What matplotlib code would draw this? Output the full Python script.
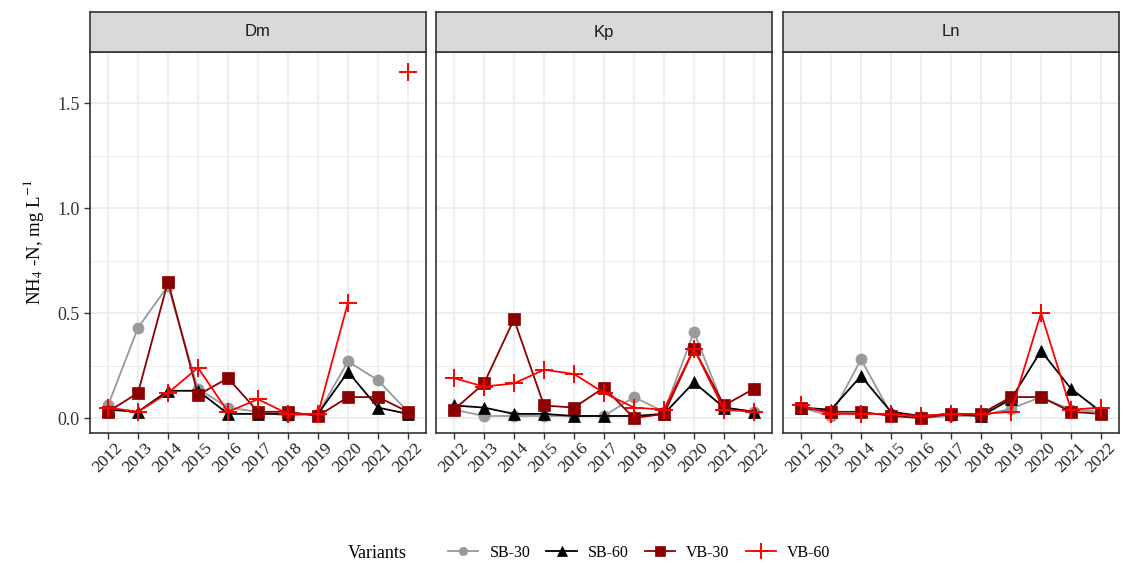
import numpy as np
import matplotlib
matplotlib.use("Agg")
import matplotlib.pyplot as plt
from matplotlib.lines import Line2D
from matplotlib.ticker import MultipleLocator

plt.rcParams['mathtext.fontset'] = 'stix'

years = list(range(2012, 2023))
panels = ["Dm", "Kp", "Ln"]
variants = ["SB-30", "SB-60", "VB-30", "VB-60"]

nan = np.nan
# Dm
dm_sb30 = [0.06, 0.43, 0.63, 0.14, 0.05, 0.03, 0.01, 0.02, 0.27, 0.18, 0.03]
dm_sb60 = [0.04, 0.03, 0.13, 0.13, 0.02, 0.02, 0.02, 0.02, 0.22, 0.05, 0.02]
dm_vb30 = [0.03, 0.12, 0.65, 0.11, 0.19, 0.03, 0.03, 0.01, 0.10, 0.10, 0.03]
dm_vb60 = [0.05, 0.03, 0.12, 0.24, 0.03, 0.09, 0.02, 0.02, 0.55, nan, 1.65]
# Kp
kp_sb30 = [0.04, 0.01, 0.01, 0.01, 0.01, 0.01, 0.10, 0.03, 0.41, 0.05, 0.03]
kp_sb60 = [0.06, 0.05, 0.02, 0.02, 0.01, 0.01, 0.01, 0.02, 0.17, 0.05, 0.03]
kp_vb30 = [0.04, 0.165, 0.47, 0.06, 0.05, 0.145, 0.00, 0.02, 0.33, 0.06, 0.14]
kp_vb60 = [0.19, 0.15, 0.165, 0.23, 0.21, 0.12, 0.05, 0.04, 0.33, 0.04, 0.03]
# Ln
ln_sb30 = [0.05, 0.01, 0.28, 0.02, 0.00, 0.01, 0.01, 0.045, 0.10, 0.04, 0.03]
ln_sb60 = [0.05, 0.04, 0.20, 0.03, 0.01, 0.02, 0.01, 0.09, 0.32, 0.14, 0.03]
ln_vb30 = [0.05, 0.03, 0.03, 0.01, 0.00, 0.02, 0.02, 0.10, 0.10, 0.03, 0.02]
ln_vb60 = [0.06, 0.02, 0.02, 0.02, 0.01, 0.02, 0.02, 0.03, 0.50, 0.04, 0.05]

data = {
    "Dm": [dm_sb30, dm_sb60, dm_vb30, dm_vb60],
    "Kp": [kp_sb30, kp_sb60, kp_vb30, kp_vb60],
    "Ln": [ln_sb30, ln_sb60, ln_vb30, ln_vb60],
}

colors = ["#999999", "#000000", "#8B0000", "#FF0000"]
markers = ["o", "^", "s", "+"]
msizes = [8, 9, 9, 13]

serif = "Liberation Serif"
W, H = 1123, 564
fig = plt.figure(figsize=(W / 100, H / 100), dpi=100)

lefts = [90, 436, 783]
pw = 336
top, bot = 52, 433
strip_h = 40

x = np.arange(len(years))
for k, name in enumerate(panels):
    ax = fig.add_axes([lefts[k] / W, 1 - bot / H, pw / W, (bot - top) / H])
    ax.set_xlim(-0.6, len(years) - 0.4)
    ax.set_ylim(-0.071, 1.743)
    ax.yaxis.set_major_locator(MultipleLocator(0.5))
    ax.yaxis.set_minor_locator(MultipleLocator(0.25))
    ax.set_xticks(x)
    ax.set_xticklabels([str(y) for y in years], rotation=45, ha="center",
                       fontfamily=serif, fontsize=12.5, color="#222222")
    ax.grid(which="major", color="#ebebeb", lw=1.2)
    ax.grid(which="minor", axis="y", color="#ebebeb", lw=0.7)
    ax.set_axisbelow(True)
    for sp in ax.spines.values():
        sp.set_color("#333333")
        sp.set_linewidth(1.2)
    ax.tick_params(axis="both", which="major", length=4, color="#333333", width=1)
    ax.tick_params(axis="y", which="minor", length=0)
    ax.tick_params(axis="x", pad=1)
    if k == 0:
        for lab in ax.get_yticklabels():
            lab.set_fontfamily(serif)
        ax.tick_params(axis="y", labelsize=13, labelcolor="#333333")
        ax.set_ylabel(r"NH$_4$ -N, mg L$^{-1}$", fontfamily=serif, fontsize=13.5, labelpad=8)
    else:
        ax.tick_params(axis="y", labelleft=False, length=0)

    for i in range(4):
        ax.plot(x, data[name][i], color=colors[i], marker=markers[i],
                ms=msizes[i], lw=1.3, mew=1.4 if markers[i] == "+" else 0.5,
                clip_on=False, zorder=3)

    sax = fig.add_axes([lefts[k] / W, 1 - top / H, pw / W, strip_h / H])
    sax.set_facecolor("#d9d9d9")
    sax.set_xticks([])
    sax.set_yticks([])
    for sp in sax.spines.values():
        sp.set_color("#333333")
        sp.set_linewidth(1.2)
    sax.text(0.5, 0.5, name, ha="center", va="center", fontsize=12,
             color="#1a1a1a", fontfamily="Liberation Sans", transform=sax.transAxes)

handles = [Line2D([], [], color=colors[i], marker=markers[i], ms=msizes[i] - 2,
                  lw=1.3, mew=1.4 if markers[i] == "+" else 0.5)
           for i in range(4)]
fig.text(348 / W, 1 - 553 / H, "Variants", fontfamily=serif, fontsize=13,
         ha="left", va="center")
fig.legend(handles, variants, loc="center left", bbox_to_anchor=(448 / W, 1 - 553 / H),
           ncol=4, frameon=False, borderaxespad=0, borderpad=0,
           prop={"family": serif, "size": 11.5}, handlelength=1.9,
           columnspacing=1.0, handletextpad=0.7)

fig.savefig("out.png", dpi=100)
